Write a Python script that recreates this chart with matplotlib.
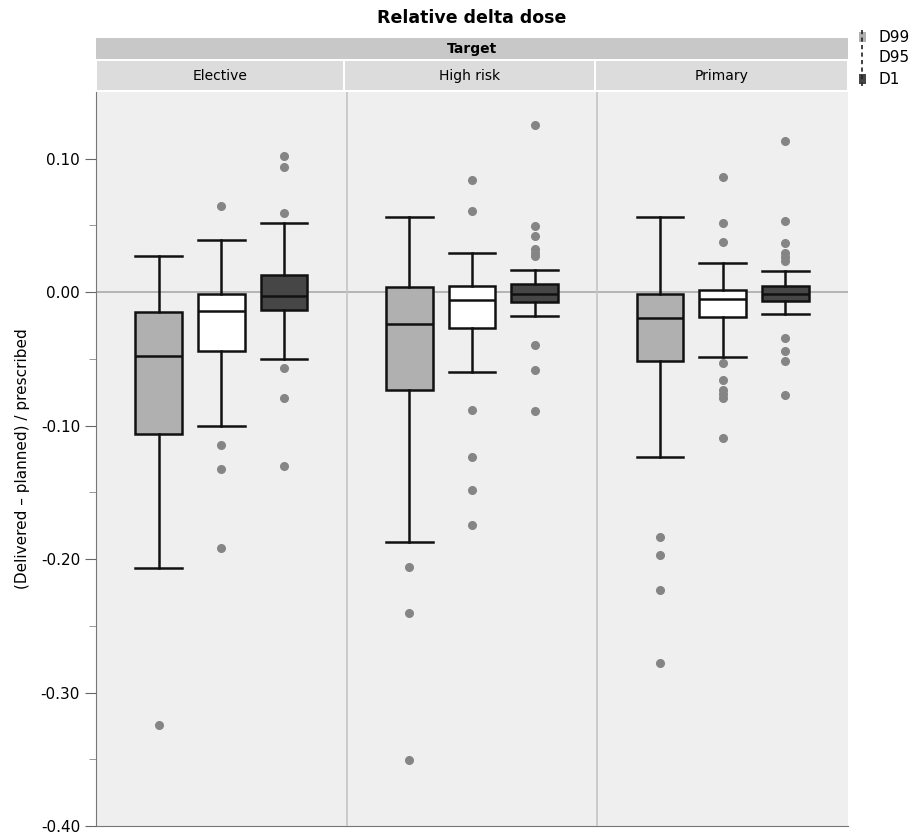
import matplotlib.pyplot as plt
from matplotlib.patches import Rectangle
from matplotlib.lines import Line2D
import numpy as np

targets = ['Elective', 'High risk', 'Primary']
metrics = ['D99', 'D95', 'D1']
fills = ['#b0b0b0', '#ffffff', '#464646']

# box stats per target, order D99, D95, D1: (whislo, q1, med, q3, whishi)
elective = [(-0.207, -0.1065, -0.0477, -0.0145, 0.0268),
            (-0.1002, -0.0437, -0.014, -0.0017, 0.0392),
            (-0.0497, -0.013, -0.0028, 0.013, 0.0517)]
high_risk = [(-0.187, -0.0732, -0.0235, 0.004, 0.0565),
             (-0.0597, -0.0267, -0.0062, 0.005, 0.0292),
             (-0.0175, -0.0075, -0.0015, 0.006, 0.0167)]
primary = [(-0.1235, -0.0517, -0.0192, -0.0017, 0.0565),
           (-0.0482, -0.0187, -0.0052, 0.0017, 0.022),
           (-0.0163, -0.0065, -0.001, 0.0043, 0.0155)]

elective_out = [[-0.3246],
                [0.0647, -0.1147, -0.1327, -0.1917],
                [0.102, 0.094, 0.059, -0.0565, -0.0795, -0.13]]
high_risk_out = [[-0.2057, -0.2404, -0.3503],
                 [0.084, 0.0605, -0.0882, -0.1237, -0.148, -0.1747],
                 [0.125, 0.0497, 0.042, 0.032, 0.029, 0.027, -0.0395, -0.0585, -0.0894]]
primary_out = [[-0.1832, -0.1969, -0.2234, -0.2779],
               [0.0862, 0.052, 0.0375, -0.053, -0.066, -0.073, -0.0765, -0.079, -0.109],
               [0.113, 0.0535, 0.037, 0.029, 0.026, 0.023, -0.0345, -0.0437, -0.0515, -0.0767]]

all_stats = [elective, high_risk, primary]
all_out = [elective_out, high_risk_out, primary_out]

fig = plt.figure(figsize=(9.23, 8.35), dpi=100)
ax = fig.add_axes([96 / 923, 1 - 826 / 835, (848 - 96) / 923, (826 - 92) / 835])
ax.set_facecolor('#efefef')

ax.axhline(0, color='#aaaaaa', lw=1.2, zorder=1)
for xv in [4, 8]:
    ax.axvline(xv, color='#c4c4c4', lw=1.2, zorder=1)

for t in range(3):
    for m in range(3):
        lo, q1, med, q3, hi = all_stats[t][m]
        st = dict(whislo=lo, q1=q1, med=med, q3=q3, whishi=hi, fliers=all_out[t][m])
        pos = t * 4 + m + 1
        ax.bxp([st], positions=[pos], widths=0.74, patch_artist=True, showfliers=True,
               boxprops=dict(facecolor=fills[m], edgecolor='#111111', lw=1.8),
               medianprops=dict(color='#111111', lw=1.8),
               whiskerprops=dict(color='#111111', lw=1.8),
               capprops=dict(color='#111111', lw=1.8),
               capwidths=0.74,
               flierprops=dict(marker='o', markerfacecolor='#858585', markeredgecolor='#858585',
                               markersize=5.5))

ax.set_xlim(0, 12)
ax.set_ylim(-0.40, 0.15)
ax.set_xticks([])
ax.set_yticks([-0.40, -0.30, -0.20, -0.10, 0.00, 0.10])
ax.set_yticklabels(['-0.40', '-0.30', '-0.20', '-0.10', '0.00', '0.10'])
ax.set_yticks(np.arange(-0.35, 0.15, 0.1), minor=True)
ax.tick_params(axis='y', which='major', length=8, color='#666666', labelsize=11)
ax.tick_params(axis='y', which='minor', length=5, color='#888888')
for side in ['top', 'right']:
    ax.spines[side].set_visible(False)
ax.spines['left'].set_color('#777777')
ax.spines['bottom'].set_color('#777777')
ax.set_ylabel('(Delivered – planned) / prescribed', fontsize=11, labelpad=8)

# header strips
x0 = 96 / 923
w = (848 - 96) / 923
fig.patches.append(Rectangle((x0, 1 - 59 / 835), w, 21 / 835, transform=fig.transFigure,
                             facecolor='#c8c8c8', edgecolor='none'))
fig.text(x0 + w / 2, 1 - 48.5 / 835, 'Target', ha='center', va='center',
         fontsize=10, fontweight='bold')
edges = [96, 344, 595, 848]
for i, name in enumerate(targets):
    a = edges[i] / 923
    b = edges[i + 1] / 923
    fig.patches.append(Rectangle((a + 0.001, 1 - 90 / 835), b - a - 0.002, 29 / 835,
                                 transform=fig.transFigure, facecolor='#dcdcdc', edgecolor='none'))
    fig.text((a + b) / 2, 1 - 76 / 835, name, ha='center', va='center', fontsize=10)

fig.text(x0 + w / 2, 1 - 18 / 835, 'Relative delta dose', ha='center', va='center',
         fontsize=12.5, fontweight='bold')

# legend
lx = 862 / 923
ys = [37, 58, 79]
fig.lines.append(Line2D([lx, lx], [1 - 30 / 835, 1 - 86 / 835], transform=fig.transFigure,
                        color='#222222', lw=1.2, ls=(0, (2.5, 2))))
for yv, name, c in zip(ys, metrics, fills):
    if c != '#ffffff':
        fig.patches.append(Rectangle((lx - 3.5 / 923, 1 - (yv + 5) / 835), 7 / 923, 10 / 835,
                                     transform=fig.transFigure, facecolor=c, edgecolor='none'))
    fig.text(878 / 923, 1 - yv / 835, name, ha='left', va='center', fontsize=11)

fig.savefig('out.png', dpi=100)
